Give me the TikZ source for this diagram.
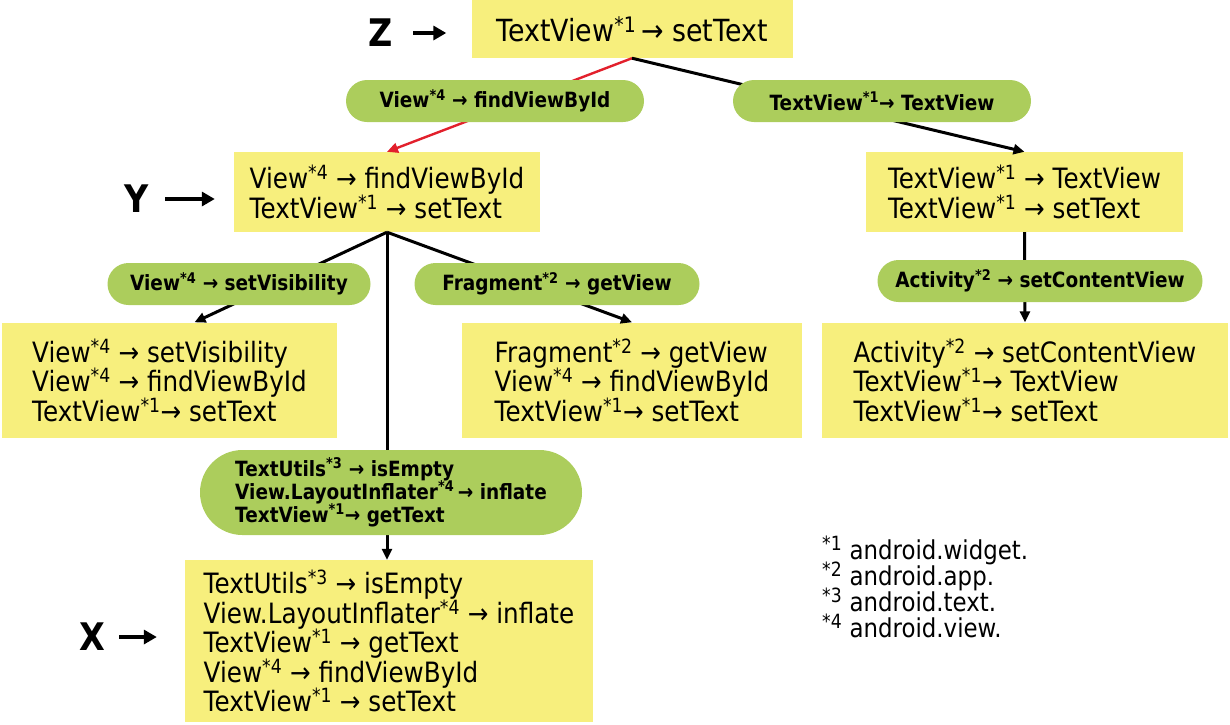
\documentclass[tikz,border=0pt]{standalone}
\usepackage{fontspec}
\setmainfont{DejaVu Sans}[FakeStretch=0.88]
\usetikzlibrary{arrows.meta, positioning, shapes.misc}
\definecolor{boxyellow}{RGB}{247,239,125}
\definecolor{pillgreen}{RGB}{172,205,92}
\definecolor{linkred}{RGB}{226,32,44}
\newcommand{\sx}[1]{\textsuperscript{*#1}}
\newcommand{\tightlines}{\lineskiplimit -50pt\relax}

\begin{document}
\begin{tikzpicture}[x=1pt, y=-1pt,
  callbox/.style={rectangle, fill=boxyellow, align=left, inner sep=0pt, font=\fontsize{28}{29.5}\selectfont\tightlines},
  callpill/.style={rounded rectangle, fill=pillgreen, align=left, inner sep=0pt, minimum height=42pt, font=\bfseries\fontsize{21}{23}\selectfont\tightlines},
  conn/.style={line width=3pt, -{Stealth[length=11pt, width=10pt, inset=0pt]}},
  redconn/.style={conn, draw=linkred, line width=2.4pt},
  labarrow/.style={line width=4pt, -{Triangle[length=13pt, width=14pt]}},
  lab/.style={font=\bfseries\fontsize{38}{38}\selectfont, inner sep=0pt},
]
  \useasboundingbox (0,0) rectangle (1230,724);

  % Call chains
  \node[callbox, font=\fontsize{30.5}{30}\selectfont, minimum width=321pt, minimum height=58pt] (zbox) at (632,29) {TextView\sx{1}\,→ setText};
  \node[callbox, minimum width=306pt, minimum height=80pt] (ybox) at (387,192) {View\sx{4} → findViewById\\TextView\sx{1} → setText};
  \node[callbox, minimum width=317pt, minimum height=80pt] (rtop) at (1024.5,192) {TextView\sx{1} → TextView\\TextView\sx{1} → setText};
  \node[callbox, minimum width=335pt, minimum height=115pt] (lmid) at (169.5,380) {View\sx{4} → setVisibility\\View\sx{4} → findViewById\\TextView\sx{1}→ setText};
  \node[callbox, minimum width=340pt, minimum height=115pt] (mmid) at (632,380) {Fragment\sx{2} → getView\\View\sx{4} → findViewById\\TextView\sx{1}→ setText};
  \node[callbox, minimum width=406pt, minimum height=115pt] (rmid) at (1025,380) {Activity\sx{2} → setContentView\\TextView\sx{1}→ TextView\\TextView\sx{1}→ setText};
  \node[callbox, minimum width=408pt, minimum height=162pt] (xbox) at (389,641) {TextUtils\sx{3} → isEmpty\\View.LayoutInflater\sx{4} → inflate\\TextView\sx{1} → getText\\View\sx{4} → findViewById\\TextView\sx{1} → setText};

  % Edges
  \draw[redconn] (zbox.south) -- (ybox.north);
  \draw[conn] (zbox.south) -- (rtop.north);
  \draw[conn] (ybox.south) -- ([xshift=25pt]lmid.north);
  \draw[conn] (ybox.south) -- (mmid.north);
  \draw[conn] (ybox.south) -- (ybox.south |- xbox.north);
  \draw[conn] (rtop.south) -- (rmid.north);

  % Added calls
  \node[callpill, minimum width=298pt] (pfind) at (495,101) {View\sx{4} → findViewById};
  \node[callpill, minimum width=298pt] (ptext) at (882,101) {TextView\sx{1}→ TextView};
  \node[callpill, minimum width=263pt] (pvis) at (239,284) {View\sx{4} → setVisibility};
  \node[callpill, minimum width=285pt] (pfrag) at (557,284) {Fragment\sx{2} → getView};
  \node[callpill, minimum width=325pt] (pact) at (1040,281) {Activity\sx{2} → setContentView};
  \node[callpill, minimum width=382pt, minimum height=85pt] (pmany) at (391,492.5) {TextUtils\sx{3} → isEmpty\\View.LayoutInflater\sx{4}\,→ inflate\\TextView\sx{1}→ getText};

  % Versions
  \node[lab] (zlab) at (381,33) {Z};
  \node[lab] (ylab) at (137,199) {Y};
  \node[lab] (xlab) at (92,637) {X};
  \draw[labarrow] ([xshift=20pt]zlab.east) -- ([xshift=-25pt]zbox.west |- zlab.east);
  \draw[labarrow] ([xshift=16pt]ylab.east) -- ([xshift=-19pt]ybox.west |- ylab.east);
  \draw[labarrow] ([xshift=14pt]xlab.east) -- ([xshift=-28pt]xbox.west |- xlab.east);

  % Packages
  \node[align=left, anchor=north west, inner sep=0pt, font=\fontsize{26}{26}\selectfont\tightlines] (notes) at (822,536)
    {{\fontsize{28}{26}\selectfont\sx{1}}\ android.widget.\\{\fontsize{28}{26}\selectfont\sx{2}}\ android.app.\\{\fontsize{28}{26}\selectfont\sx{3}}\ android.text.\\{\fontsize{28}{26}\selectfont\sx{4}}\ android.view.};
\end{tikzpicture}
\end{document}
